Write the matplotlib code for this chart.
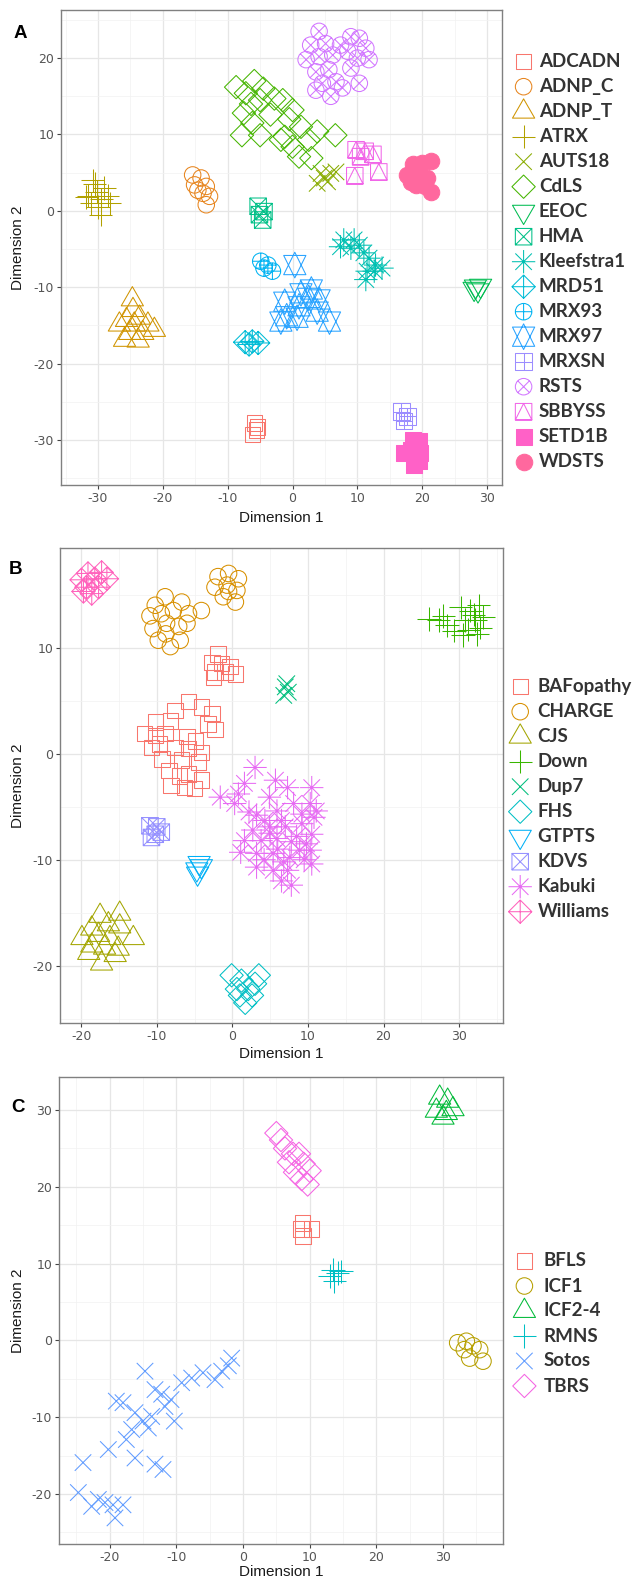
import numpy as np
import matplotlib
matplotlib.use("Agg")
import matplotlib.pyplot as plt
from matplotlib.path import Path
from matplotlib.ticker import MultipleLocator

plt.rcParams['axes.unicode_minus'] = False

# ---- panel A ----
a_labels = ["ADCADN", "ADNP_C", "ADNP_T", "ATRX", "AUTS18", "CdLS", "EEOC", "HMA",
            "Kleefstra1", "MRD51", "MRX93", "MRX97", "MRXSN", "RSTS", "SBBYSS",
            "SETD1B", "WDSTS"]
adcadn = [(-5.9, -27.8), (-5.6, -28.7), (-6.2, -29.3), (-5.4, -28.3)]
adnp_c = [(-15.4, 4.7), (-14.1, 4.3), (-15.1, 3.4), (-13.3, 3.2), (-13.8, 2.3),
          (-12.8, 1.9), (-13.3, 0.8), (-14.6, 2.7)]
adnp_t = [(-24.7, -11.6), (-24.6, -13.0), (-25.6, -14.3), (-23.6, -14.0), (-26.7, -14.9),
          (-22.3, -14.9), (-24.4, -14.9), (-25.1, -16.0), (-23.1, -16.0), (-25.9, -16.9),
          (-23.8, -17.0), (-21.3, -15.6)]
atrx = [(-31.5, 2.0), (-30.5, 3.5), (-29.5, 1.5), (-30.0, 0.5), (-28.5, 2.0), (-31.0, 1.0),
        (-29.0, 3.0), (-30.2, 2.5), (-28.2, 1.0), (-30.8, 4.0), (-29.6, -0.5), (-31.8, 1.8)]
auts18 = [(3.8, 3.6), (4.9, 4.3), (5.9, 4.9), (6.7, 5.1), (5.4, 3.8), (4.4, 4.9)]
cdls = [(-8.7, 16.2), (-5.9, 17.0), (-7.2, 15.4), (-5.0, 14.5), (-7.5, 12.8), (-1.5, 14.5),
        (0.0, 13.2), (-3.4, 12.6), (-6.2, 11.5), (-7.8, 9.9), (-5.0, 9.9), (-1.2, 9.7),
        (1.3, 11.0), (2.5, 9.3), (3.8, 10.4), (0.0, 8.4), (1.0, 7.1), (2.9, 6.9),
        (6.6, 9.9), (-1.8, 9.3), (-2.8, 14.7), (-4.5, 16.0), (-0.5, 12.0), (-6.4, 14.0)]
eeoc = [(28.2, -9.9), (29.0, -9.8), (28.6, -10.4), (28.0, -10.2)]
hma = [(-5.3, 0.6), (-4.4, -0.1), (-4.6, -1.2), (-5.1, -0.5)]
kleefstra1 = [(7.9, -3.8), (9.5, -3.8), (7.4, -4.7), (9.0, -4.9), (10.3, -4.5), (11.0, -5.5),
              (11.8, -6.2), (12.8, -7.1), (13.8, -7.5), (11.5, -7.9), (11.3, -9.0), (12.6, -7.9)]
mrd51 = [(-7.3, -17.2), (-6.2, -17.1), (-5.3, -17.3), (-6.7, -17.5)]
mrx93 = [(-4.9, -6.6), (-3.8, -7.1), (-3.1, -7.9), (-4.4, -7.5)]
mrx97 = [(0.35, -7.1), (2.9, -10.3), (-1.2, -11.9), (1.0, -12.5), (2.5, -11.4), (4.1, -11.6),
         (-0.9, -13.8), (0.7, -14.0), (3.8, -13.2), (5.7, -14.5), (-1.8, -14.5), (1.3, -10.8)]
mrxsn = [(16.8, -26.3), (17.7, -26.9), (17.2, -27.5)]
rsts = [(4.1, 23.5), (2.8, 21.7), (5.1, 21.9), (2.1, 19.8), (4.1, 20.2), (6.2, 20.4),
        (3.6, 18.2), (5.6, 18.5), (4.6, 16.7), (6.7, 16.9), (3.6, 15.8), (5.9, 15.0),
        (7.7, 16.1), (9.0, 22.8), (10.3, 22.6), (11.3, 21.3), (8.5, 20.9), (10.0, 20.0),
        (11.8, 19.8), (9.0, 18.7), (10.3, 16.7), (7.4, 21.7)]
sbbyss = [(9.8, 8.0), (11.2, 7.8), (12.4, 7.4), (9.6, 4.6), (13.3, 5.1), (10.5, 7.1)]
setd1b = [(17.2, -31.7), (18.5, -30.0), (19.5, -30.2), (19.7, -31.7), (18.7, -33.3),
          (18.2, -31.3), (19.5, -32.8)]
wdsts = [(17.7, 4.7), (18.5, 6.1), (20.0, 6.2), (21.3, 6.5), (19.5, 4.9), (20.8, 4.3),
         (19.0, 3.4), (21.3, 2.5), (20.5, 3.2), (18.2, 3.8)]
a_points = [adcadn, adnp_c, adnp_t, atrx, auts18, cdls, eeoc, hma, kleefstra1, mrd51,
            mrx93, mrx97, mrxsn, rsts, sbbyss, setd1b, wdsts]

# ---- panel B ----
b_labels = ["BAFopathy", "CHARGE", "CJS", "Down", "Dup7", "FHS", "GTPTS", "KDVS",
            "Kabuki", "Williams"]
bafopathy = [(-1.9, 9.4), (-2.7, 8.6), (-1.4, 8.5), (-0.3, 8.2), (-2.3, 7.7), (-1.0, 7.7),
             (0.4, 7.5), (-2.5, 7.2),
             (-5.8, 4.9), (-4.1, 4.4), (-7.6, 4.1), (-2.7, 3.8), (-10.2, 3.0), (-8.2, 3.1),
             (-3.2, 2.8), (-2.3, 2.3), (-11.6, 1.9), (-10.2, 1.7), (-8.9, 1.9), (-6.0, 1.6),
             (-4.9, 1.2), (-10.7, 0.6), (-7.6, 0.6), (-5.8, 0.5), (-4.1, 0.1), (-9.3, -0.5),
             (-6.7, -0.6), (-4.5, -0.8), (-8.4, -1.6), (-7.0, -2.1), (-5.8, -1.9), (-8.1, -3.0),
             (-6.3, -3.2), (-5.0, -3.3), (-4.1, -2.5), (-9.6, 0.9)]
charge = [(-10.2, 14.0), (-8.9, 14.8), (-10.9, 13.0), (-9.4, 13.2), (-7.8, 13.5), (-6.7, 14.3),
          (-5.8, 13.2), (-4.1, 13.5), (-10.5, 11.8), (-8.7, 12.3), (-7.1, 12.0), (-9.8, 10.7),
          (-8.2, 10.1), (-6.9, 10.7), (-8.8, 11.3), (-6.0, 12.3),
          (-1.9, 16.7), (-0.5, 17.0), (0.8, 16.5), (-2.3, 15.7), (-0.7, 15.9), (0.6, 15.4),
          (-1.2, 14.8), (0.4, 14.3), (-0.5, 15.3)]
cjs = [(-17.5, -15.3), (-14.9, -15.1), (-18.6, -16.5), (-16.4, -16.1), (-14.9, -16.3),
       (-19.9, -17.4), (-17.7, -17.1), (-16.2, -17.4), (-13.1, -17.4), (-18.6, -18.1),
       (-16.9, -18.3), (-15.1, -18.4), (-19.0, -18.8), (-17.3, -19.8), (-15.5, -19.0)]
down = [(26.0, 12.7), (27.3, 12.6), (28.4, 12.1), (27.9, 13.0), (30.2, 13.8), (31.5, 13.5),
        (32.6, 14.0), (30.8, 12.6), (32.1, 12.6), (33.2, 12.9), (31.2, 11.7), (32.4, 11.3),
        (30.5, 11.2), (29.3, 11.6), (32.8, 11.9), (31.9, 13.1)]
dup7 = [(7.0, 6.3), (7.4, 5.8), (6.8, 5.5), (7.2, 6.6)]
fhs = [(-0.1, -20.9), (1.2, -21.4), (3.5, -20.9), (0.6, -22.2), (2.1, -22.2), (3.0, -21.7),
       (1.7, -23.5), (2.6, -22.8), (1.0, -22.8)]
gtpts = [(-4.4, -10.3), (-4.7, -10.9), (-4.1, -10.6), (-4.6, -11.3)]
kdvs = [(-10.9, -6.8), (-10.0, -6.9), (-10.2, -7.6), (-9.4, -7.4), (-10.7, -7.9)]
kabuki = [(3.0, -1.3), (-1.6, -4.1), (0.3, -4.7), (1.6, -2.8), (5.7, -2.5), (7.3, -3.2),
          (10.5, -3.2), (10.3, -4.7), (11.1, -5.4), (9.2, -5.7), (3.2, -5.8), (5.9, -5.4),
          (2.7, -7.2), (4.9, -6.9), (7.0, -6.9), (9.2, -6.6), (10.5, -7.6), (3.8, -8.2),
          (5.9, -8.0), (7.8, -8.3), (1.1, -9.3), (3.2, -9.4), (5.4, -9.4), (7.6, -9.8),
          (10.3, -9.1), (10.5, -10.4), (3.2, -10.7), (5.4, -11.0), (7.3, -11.0), (7.8, -12.4),
          (6.5, -12.0), (1.6, -8.2), (4.9, -4.1), (8.1, -4.7), (8.9, -9.1), (6.5, -6.3),
          (4.3, -6.3), (5.0, -7.5), (6.0, -9.0), (4.2, -10.0), (8.5, -7.8), (9.8, -8.5),
          (2.2, -5.5), (0.8, -3.8), (6.8, -10.2), (9.5, -10.0), (10.8, -6.0)]
williams = [(-19.95, 16.4), (-19.1, 17.0), (-18.2, 16.5), (-19.3, 15.7), (-17.7, 15.7),
            (-16.6, 16.5), (-18.6, 15.1), (-19.7, 15.3), (-17.3, 17.1)]
b_points = [bafopathy, charge, cjs, down, dup7, fhs, gtpts, kdvs, kabuki, williams]

# ---- panel C ----
c_labels = ["BFLS", "ICF1", "ICF2-4", "RMNS", "Sotos", "TBRS"]
bfls = [(8.9, 15.3), (10.3, 14.5), (9.0, 13.6), (8.7, 14.5)]
icf1 = [(32.2, -0.3), (33.5, -0.1), (34.5, -0.7), (35.5, -1.2), (33.2, -1.2), (34.0, -2.3),
        (36.0, -2.7)]
icf2_4 = [(29.5, 31.6), (30.7, 31.2), (29.0, 29.9), (30.5, 29.6), (31.5, 30.1), (30.0, 29.0)]
rmns = [(13.5, 9.2), (14.2, 8.8), (13.0, 8.4), (14.7, 9.0), (13.7, 7.7)]
sotos = [(-14.7, -4.0), (-19.0, -7.9), (-18.0, -8.1), (-13.2, -6.4), (-12.2, -7.0),
         (-9.2, -5.5), (-7.7, -4.9), (-6.0, -4.2), (-4.2, -5.1), (-3.2, -4.0), (-1.7, -2.3),
         (-2.2, -3.3), (-16.2, -9.4), (-15.0, -10.5), (-13.7, -9.9), (-10.3, -10.5),
         (-11.7, -8.6), (-10.8, -7.7), (-17.5, -12.9), (-20.2, -14.2), (-16.2, -15.3),
         (-13.2, -16.1), (-12.0, -16.8), (-24.0, -15.9), (-24.7, -19.8), (-22.7, -21.6),
         (-20.7, -21.1), (-19.5, -21.4), (-18.0, -21.4), (-19.2, -23.1), (-14.2, -11.4),
         (-16.7, -11.6), (-21.7, -20.7)]
tbrs = [(5.0, 27.0), (5.7, 26.1), (6.3, 25.0), (7.5, 24.3), (8.4, 24.3), (6.9, 23.2),
        (9.1, 23.0), (10.0, 22.1), (7.8, 21.9), (8.8, 21.0), (9.7, 20.3)]
c_points = [bfls, icf1, icf2_4, rmns, sotos, tbrs]


# ggplot-like default hue palette (HCL, c=100, l=65)
def hue_pal(n, c=100.0, l=65.0):
    xn, yn, zn = 0.95047, 1.0, 1.08883
    den = xn + 15 * yn + 3 * zn
    un, vn = 4 * xn / den, 9 * yn / den
    cols = []
    for h in 15 + 360 * np.arange(n) / n:
        u = c * np.cos(np.radians(h)) / (13 * l) + un
        v = c * np.sin(np.radians(h)) / (13 * l) + vn
        Y = ((l + 16) / 116) ** 3
        X = 9 * Y * u / (4 * v)
        Z = -X / 3 - 5 * Y + 3 * Y / v
        rgb = np.array([[3.240479, -1.537150, -0.498535],
                        [-0.969256, 1.875992, 0.041556],
                        [0.055648, -0.204043, 1.057311]]) @ np.array([X, Y, Z])
        rgb = np.where(rgb > 0.0031308, 1.055 * np.abs(rgb) ** (1 / 2.4) - 0.055, 12.92 * rgb)
        cols.append(tuple(np.clip(rgb, 0, 1)))
    return cols


# R pch shapes 0..16 built as marker paths (units of point size)
MV, LN, CL = Path.MOVETO, Path.LINETO, Path.CLOSEPOLY
PAD = 0.6


def _poly(pts):
    return Path(list(pts) + [pts[0]], [MV] + [LN] * (len(pts) - 1) + [CL])


def _segs(*pairs):
    v, c = [], []
    for a, b in pairs:
        v += [a, b]
        c += [MV, LN]
    return Path(v, c)


def _circle(r):
    uc = Path.unit_circle()
    return Path(uc.vertices * r, uc.codes)


def _plus(h):
    return _segs(((-h, 0), (h, 0)), ((0, -h), (0, h)))


def _cross(h):
    return _segs(((-h, -h), (h, h)), ((-h, h), (h, -h)))


def _square(h):
    return _poly([(-h, -h), (h, -h), (h, h), (-h, h)])


def _diamond(h):
    return _poly([(0, -h), (h, 0), (0, h), (-h, 0)])


def _tri(up=True, r=0.583, w=0.505, b=0.292):
    s = 1 if up else -1
    return _poly([(0, s * r), (w, -s * b), (-w, -s * b)])


shape_parts = {
    0: [_square(0.35)], 1: [_circle(0.375)], 2: [_tri()], 3: [_plus(0.53)],
    4: [_cross(0.375)], 5: [_diamond(0.53)], 6: [_tri(False)],
    7: [_square(0.375), _cross(0.375)], 8: [_plus(0.53), _cross(0.375)],
    9: [_diamond(0.53), _plus(0.53)], 10: [_circle(0.375), _plus(0.375)],
    11: [_tri(True, 0.583, 0.505, 0.437), _tri(False, 0.583, 0.505, 0.437)],
    12: [_square(0.375), _plus(0.375)], 13: [_circle(0.375), _cross(0.265)],
    14: [_square(0.375), _poly([(0, 0.375), (0.375, -0.375), (-0.375, -0.375)])],
    15: [_square(0.375)], 16: [_circle(0.375)],
}
anchor = Path([(-PAD, -PAD), (PAD, PAD)], [MV, MV])


def marker(k):
    return Path.make_compound_path(anchor, *shape_parts[k])


F_PT = 22 * 0.72                 # point "font size" in pt (22 px)
MS = (2 * PAD * F_PT) ** 2
LW = 0.75

W, H = 636, 1579
fig = plt.figure(figsize=(W / 100, H / 100), dpi=100)
lay = fig.add_axes([0, 0, 1, 1])
lay.set_xlim(0, W)
lay.set_ylim(H, 0)
lay.axis("off")
lay.set_zorder(5)


def draw_pts(ax, pts, k, col, **kw):
    xy = np.array(pts, dtype=float)
    filled = k in (15, 16)
    ax.scatter(xy[:, 0], xy[:, 1], s=MS, marker=marker(k),
               facecolors=col if filled else "none", edgecolors=col,
               linewidths=LW, **kw)


panels = [
    dict(letter="A", labels=a_labels, points=a_points, box=(61, 10, 502, 485),
         xlim=(-35.7, 32.3), ylim=(-35.9, 26.3), xt=range(-30, 31, 10), yt=range(-30, 21, 10),
         lx=(523.6, 539.0, 61.7), letter_xy=(20, 33), xlab_y=518),
    dict(letter="B", labels=b_labels, points=b_points, box=(60, 548, 503, 1023),
         xlim=(-22.8, 35.8), ylim=(-25.4, 19.4), xt=range(-20, 31, 10), yt=range(-20, 11, 10),
         lx=(520.2, 537.6, 686.7), letter_xy=(16, 569), xlab_y=1054),
    dict(letter="C", labels=c_labels, points=c_points, box=(59, 1077, 503, 1544),
         xlim=(-27.6, 39.0), ylim=(-26.5, 34.3), xt=range(-20, 31, 10), yt=range(-20, 31, 10),
         lx=(524.4, 543.5, 1261.0), letter_xy=(18, 1107), xlab_y=1572),
]

for p in panels:
    l, t, r, b = p["box"]
    ax = fig.add_axes([l / W, 1 - b / H, (r - l) / W, (b - t) / H])
    cols = hue_pal(len(p["labels"]))
    for k, (lab, pts) in enumerate(zip(p["labels"], p["points"])):
        draw_pts(ax, pts, k, cols[k], zorder=3)
    ax.set_xlim(*p["xlim"])
    ax.set_ylim(*p["ylim"])
    ax.set_xticks(list(p["xt"]))
    ax.set_yticks(list(p["yt"]))
    ax.xaxis.set_minor_locator(MultipleLocator(5))
    ax.yaxis.set_minor_locator(MultipleLocator(5))
    ax.grid(which="major", color="#E6E6E6", lw=0.9)
    ax.grid(which="minor", color="#F2F2F2", lw=0.5)
    ax.set_axisbelow(True)
    ax.tick_params(which="major", length=3, width=0.8, color="#444444", labelsize=9,
                   labelcolor="#555555", pad=2)
    ax.tick_params(which="minor", length=0)
    for s in ax.spines.values():
        s.set_color("#808080")
        s.set_linewidth(1.0)

    cx = (l + r) / 2
    lay.text(cx, p["xlab_y"], "Dimension 1", ha="center", va="center", fontsize=11,
             color="#1a1a1a", family="Liberation Sans")
    lay.text(18, (t + b) / 2, "Dimension 2", ha="center", va="center", rotation=90,
             fontsize=11, color="#1a1a1a", family="Liberation Sans")
    lay.text(p["letter_xy"][0], p["letter_xy"][1], p["letter"], ha="center", va="center",
             fontsize=13.5, fontweight="bold", color="black", family="Liberation Sans")

    kx, tx, y0 = p["lx"]
    for k, lab in enumerate(p["labels"]):
        yy = y0 + 25 * k
        draw_pts(lay, [(kx, yy)], k, cols[k])
        lay.text(tx, yy, lab, ha="left", va="center", fontsize=13.5, fontweight="bold",
                 color="#333333", family="Lato")

fig.savefig("out.png", dpi=100)
